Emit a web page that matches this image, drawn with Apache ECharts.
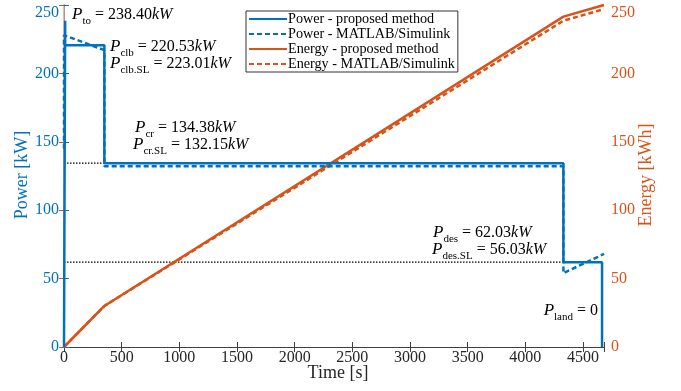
<!DOCTYPE html>
<html>
<head>
<meta charset="utf-8">
<script src="https://cdn.jsdelivr.net/npm/echarts@6/dist/echarts.min.js"></script>
<style>
  html, body { margin: 0; padding: 0; background: #fff; }
  #chart { width: 681px; height: 391px; }
</style>
</head>
<body>
<div id="chart"></div>
<script>
// time breakpoints [s] and values
const powerTime = [0, 10, 10, 350, 350, 4330, 4330, 4665, 4665];
const powerVal = [0, 238.4, 220.53, 220.53, 134.38, 134.38, 62.03, 62.03, 0];
const powerSLTime = [0, 0, 350, 350, 4330, 4330, 4682];
const powerSLVal = [145, 228, 217, 132.15, 132.15, 54, 68];
const energyTime = [0, 350, 4330, 4682];
const energyVal = [0, 30, 241.5, 250];
const energySLVal = [0, 30, 238.5, 247];
const crRefTime = [0, 350];
const crRefVal = [134.38, 134.38];
const desRefTime = [0, 4330];
const desRefVal = [62.03, 62.03];
const xTicks = [0, 500, 1000, 1500, 2000, 2500, 3000, 3500, 4000, 4500];

const blue = '#0072BD';
const orange = '#D95319';
const font = 'Liberation Serif';

const zip = (t, v) => t.map((x, i) => [x, v[i]]);

const chart = echarts.init(document.getElementById('chart'));

const richStyle = {
  p: { fontFamily: font, fontStyle: 'italic', fontSize: 17, color: '#262626', lineHeight: 24 },
  s: { fontFamily: font, fontSize: 11, color: '#262626', lineHeight: 12, verticalAlign: 'bottom' },
  t: { fontFamily: font, fontSize: 16, color: '#262626', lineHeight: 24 },
  k: { fontFamily: font, fontStyle: 'italic', fontSize: 16, color: '#262626', lineHeight: 24 }
};

function note(x, y, sub, val, unit, align) {
  return {
    type: 'text', x: x, y: y, z: 50,
    style: {
      text: '{p|P}{s|' + sub + '}{t| = ' + val + '}' + (unit ? '{k|kW}' : ''),
      rich: richStyle,
      align: align || 'left',
      verticalAlign: 'middle'
    }
  };
}

// axis titles, placed like the MATLAB labels
function title(x, y, text, color, rot) {
  return {
    type: 'text', x: x, y: y, rotation: rot || 0, z: 50,
    style: {
      text: text, fill: color, font: '18px "' + font + '"',
      align: 'center', verticalAlign: 'middle'
    }
  };
}

// MATLAB keeps the top tick label inside the figure, a bit lower than the tick
const yLabel = v => (v === 250 ? '{top|250}' : String(v));

const lineW = 2.5;

chart.setOption({
  animation: false,
  backgroundColor: '#fff',
  grid: { left: 64, right: 77, top: 5, bottom: 44, containLabel: false, outerBoundsMode: 'none' },
  legend: {
    data: ['Power - proposed method', 'Power - MATLAB/Simulink', 'Energy - proposed method', 'Energy - MATLAB/Simulink'],
    orient: 'vertical',
    left: 246, top: 11,
    itemWidth: 38, itemHeight: 12, itemGap: 1,
    padding: [1, 3, 1, 2],
    backgroundColor: '#fff',
    borderColor: '#333', borderWidth: 1,
    itemStyle: { opacity: 0 },
    textStyle: { fontFamily: font, fontSize: 14.2, lineHeight: 14, color: '#000', padding: [0, 0, 0, -4] }
  },
  xAxis: [{
    type: 'value', min: 0, max: 4682, interval: 500,
    axisLine: { lineStyle: { color: '#404040', width: 1 } },
    axisTick: { inside: true, length: 5, lineStyle: { color: '#404040' } },
    axisLabel: {
      fontFamily: font, fontSize: 16, color: '#262626', margin: 3,
      formatter: v => (xTicks.indexOf(v) >= 0 ? String(v) : '')
    },
    splitLine: { show: false }
  }, {
    type: 'value', min: 0, max: 4682, interval: 500, position: 'top',
    axisLine: { lineStyle: { color: '#404040', width: 1 } },
    axisTick: { inside: true, length: 5, lineStyle: { color: '#404040' } },
    axisLabel: { show: false },
    splitLine: { show: false }
  }],
  yAxis: [{
    type: 'value', min: 0, max: 250, interval: 50,
    axisLine: { show: true, lineStyle: { color: blue, width: 1 } },
    axisTick: { show: true, inside: true, length: 5, lineStyle: { color: blue } },
    axisLabel: {
      fontFamily: font, fontSize: 16, color: blue, margin: 5, formatter: yLabel,
      rich: { top: { fontFamily: font, fontSize: 16, color: blue, padding: [16, 0, 0, 0] } }
    },
    splitLine: { show: false }
  }, {
    type: 'value', min: 0, max: 250, interval: 50, position: 'right',
    axisLine: { show: true, lineStyle: { color: '#EBA07F', width: 1.5 } },
    axisTick: { show: true, inside: true, length: 5, lineStyle: { color: orange } },
    axisLabel: {
      fontFamily: font, fontSize: 16, color: orange, margin: 7, formatter: yLabel,
      rich: { top: { fontFamily: font, fontSize: 16, color: orange, padding: [16, 0, 0, 0] } }
    },
    splitLine: { show: false }
  }],
  series: [{
    name: 'cr-ref', type: 'line', data: zip(crRefTime, crRefVal), symbol: 'none',
    lineStyle: { color: '#000', width: 1.2, type: [1.5, 1.5] }, z: 1
  }, {
    name: 'des-ref', type: 'line', data: zip(desRefTime, desRefVal), symbol: 'none',
    lineStyle: { color: '#000', width: 1.2, type: [1.5, 1.5] }, z: 1
  }, {
    name: 'Energy - proposed method', type: 'line', yAxisIndex: 1,
    data: zip(energyTime, energyVal), symbol: 'none',
    itemStyle: { color: orange },
    lineStyle: { color: orange, width: lineW }, z: 2
  }, {
    name: 'Energy - MATLAB/Simulink', type: 'line', yAxisIndex: 1,
    data: zip(energyTime, energySLVal), symbol: 'none',
    itemStyle: { color: orange },
    lineStyle: { color: orange, width: lineW, type: [5, 3] }, z: 2
  }, {
    name: 'Power - proposed method', type: 'line',
    data: zip(powerTime, powerVal), symbol: 'none',
    itemStyle: { color: blue },
    lineStyle: { color: blue, width: lineW }, z: 3
  }, {
    name: 'Power - MATLAB/Simulink', type: 'line',
    data: zip(powerSLTime, powerSLVal), symbol: 'none',
    itemStyle: { color: blue },
    lineStyle: { color: blue, width: lineW, type: [5, 3] }, z: 3
  }],
  graphic: [
    title(22, 175, 'Power [kW]', blue, Math.PI / 2),
    title(646, 175, 'Energy [kWh]', orange, Math.PI / 2),
    title(338, 373, 'Time [s]', '#262626'),
    note(72, 15, 'to', '238.40', true),
    note(110, 47, 'clb', '220.53', true),
    note(110, 64, 'clb.SL', '223.01', true),
    note(135, 128, 'cr', '134.38', true),
    note(133, 145, 'cr.SL', '132.15', true),
    note(433, 233, 'des', '62.03', true),
    note(432, 250, 'des.SL', '56.03', true),
    note(598, 311, 'land', '0', false, 'right')
  ]
});
</script>
</body>
</html>
